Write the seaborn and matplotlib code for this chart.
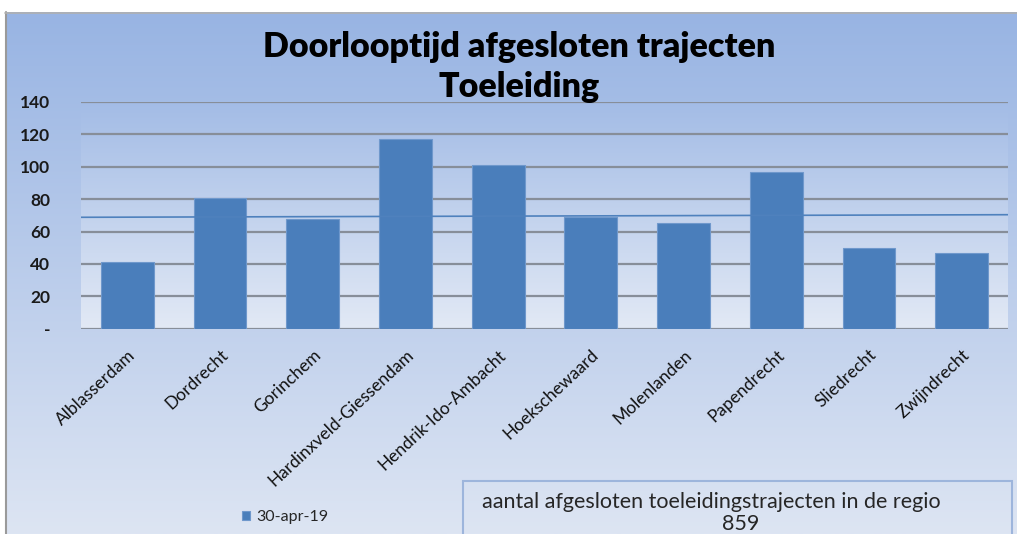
import numpy as np
import pandas as pd
import matplotlib
matplotlib.use("Agg")
import matplotlib.pyplot as plt
import seaborn as sns
from matplotlib.colors import LinearSegmentedColormap
from matplotlib.patches import Rectangle

# data
gemeenten = ["Alblasserdam", "Dordrecht", "Gorinchem", "Hardinxveld-Giessendam",
             "Hendrik-Ido-Ambacht", "Hoekschewaard", "Molenlanden",
             "Papendrecht", "Sliedrecht", "Zwijndrecht"]
dagen = [41, 81, 68, 117, 101, 69, 65, 97, 50, 47]
gemiddelde = [68.8, 70.4]   # hand drawn average line, left / right end
y_ticks = [0, 20, 40, 60, 80, 100, 120, 140]
y_labels = ["-", "20", "40", "60", "80", "100", "120", "140"]
legend_label = "30-apr-19"
box_text = "aantal afgesloten toeleidingstrajecten in de regio"
box_total = "859"

sns.set_theme(style="white")
plt.rcParams["font.family"] = ["Lato", "DejaVu Sans"]

W, H = 1017, 534
fig = plt.figure(figsize=(W / 100, H / 100), dpi=100)
fig.patch.set_facecolor("white")

# chart area background gradient
bg = fig.add_axes([5 / W, 0, 1 - 5 / W, 1 - 12 / H], zorder=-10)
grad = LinearSegmentedColormap.from_list("bg", ["#98b4e3", "#dde5f3"])
bg.imshow(np.linspace(0, 1, 256).reshape(-1, 1), aspect="auto", cmap=grad,
          extent=[0, 1, 0, 1], origin="upper")
bg.set_xlim(0, 1)
bg.set_ylim(0, 1)
bg.set_axis_off()
bg.plot([0.0008, 0.0008], [0, 1], color="#9a9a9a", lw=1.5, clip_on=False)
bg.plot([0, 1], [0.999, 0.999], color="#b0b0b0", lw=1.2, clip_on=False)

ax = fig.add_axes([81 / W, 1 - 328.7 / H, (1008 - 81) / W, (328.7 - 102) / H])
ax.set_facecolor("none")
df = pd.DataFrame({"gemeente": gemeenten, "dagen": dagen})

# plot area gradient
pgrad = LinearSegmentedColormap.from_list("pa", ["#a3bce6", "#e2e9f5"])
ax.imshow(np.linspace(0, 1, 256).reshape(-1, 1), aspect="auto", cmap=pgrad,
          extent=[-0.5, len(gemeenten) - 0.5, 0, 140], origin="upper", zorder=0)

for t in y_ticks:
    ax.axhline(t, color="#878e99", lw=1.6, zorder=1)

sns.barplot(data=df, x="gemeente", y="dagen", color="#4a7ebb", saturation=1,
            width=0.57, edgecolor="#6f98cc", linewidth=0.8, ax=ax, zorder=2,
            label=legend_label)
ax.plot([-0.5, len(gemeenten) - 0.5], gemiddelde, color="#4f81bd", lw=1.2, zorder=3)

ax.set_xlim(-0.5, len(gemeenten) - 0.5)
ax.set_ylim(0, 140)
ax.set_yticks(y_ticks)
ax.set_yticklabels(y_labels, fontsize=12.5, fontweight="bold", color="#1a1a1a")
ax.tick_params(axis="y", length=0, pad=22)
ax.tick_params(axis="x", length=0, pad=13)
ax.set_xticks(range(len(gemeenten)))
ax.set_xticklabels(gemeenten, rotation=43, ha="right", rotation_mode="anchor",
                   fontsize=12.5, color="#111111")
ax.set_xlabel("")
ax.set_ylabel("")
for s in ax.spines.values():
    s.set_visible(False)
if ax.get_legend() is not None:
    ax.get_legend().remove()

fig.text(519 / W, 1 - 47 / H, "Doorlooptijd afgesloten trajecten", ha="center",
         va="center", fontsize=24.5, fontweight="heavy", color="black")
fig.text(519 / W, 1 - 87 / H, "Toeleiding", ha="center", va="center",
         fontsize=24.5, fontweight="heavy", color="black")

# legend
handles, labels = ax.get_legend_handles_labels()
fig.legend(handles[:1], [legend_label], loc="center left",
           bbox_to_anchor=(228 / W, 1 - 517 / H), frameon=False, fontsize=11.5,
           handlelength=0.5, handleheight=0.5, handletextpad=0.4)

# text box
fig.patches.append(Rectangle((463 / W, -0.05), (1012 - 463) / W, 0.05 + (534 - 481) / H,
                             transform=fig.transFigure, facecolor="none",
                             edgecolor="#9db5dc", lw=1.5))
fig.text(711 / W, 1 - 502 / H, box_text, ha="center", va="center", fontsize=15.5)
fig.text(741 / W, 1 - 524 / H, box_total, ha="center", va="center", fontsize=15.5)

fig.savefig("out.png", dpi=100)
